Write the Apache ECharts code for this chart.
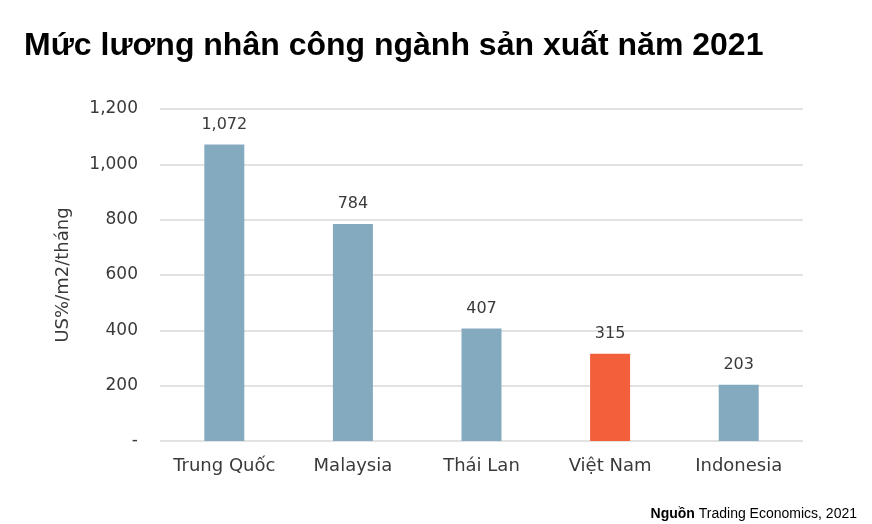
<!DOCTYPE html>
<html><head><meta charset="utf-8">
<script src="https://cdn.jsdelivr.net/npm/echarts@6/dist/echarts.min.js"></script>
<style>html,body{margin:0;padding:0;background:#fff}#c{width:872px;height:524px}</style>
</head><body><div id="c"></div>
<script>
const categories = ["Trung Quốc", "Malaysia", "Thái Lan", "Việt Nam", "Indonesia"];
const values = [1072, 784, 407, 315, 203];
const highlight = "Việt Nam";
const chart = echarts.init(document.getElementById('c'), null, {renderer: 'canvas'});
const font = '"DejaVu Sans", sans-serif';
const arial = '"Liberation Sans", Arial, sans-serif';
chart.setOption({
  animation: false,
  title: [{
    text: 'Mức lương nhân công ngành sản xuất năm 2021',
    left: 19, top: 25,
    textStyle: {fontFamily: arial, fontWeight: 'bold', fontSize: 32, color: '#000'}
  }, {
    text: '{b|Nguồn} {n|Trading Economics, 2021}',
    right: 10, top: 502,
    textStyle: {fontFamily: arial, fontSize: 14, fontWeight: 'normal', color: '#000',
      rich: {
        b: {fontFamily: arial, fontSize: 14, fontWeight: 'bold', color: '#000'},
        n: {fontFamily: arial, fontSize: 14, fontWeight: 'normal', color: '#000'}
      }}
  }],
  grid: {left: 160, right: 69, top: 109, bottom: 83},
  xAxis: {
    type: 'category', data: categories,
    axisLine: {show: false}, axisTick: {show: false},
    axisLabel: {interval: 0, fontFamily: font, fontSize: 18, color: '#3a3a3a', margin: 16}
  },
  yAxis: {
    type: 'value', min: 0, max: 1200, interval: 200,
    name: 'US%/m2/tháng', nameLocation: 'middle', nameGap: 88, nameRotate: 90,
    nameTextStyle: {fontFamily: font, fontSize: 18, color: '#3a3a3a'},
    axisLine: {show: false}, axisTick: {show: false},
    axisLabel: {fontFamily: font, fontSize: 17, color: '#3a3a3a', margin: 22,
      formatter: v => v === 0 ? '-' : v.toLocaleString('en-US')},
    splitLine: {lineStyle: {color: '#d9d9d9', width: 1.5}}
  },
  series: [{
    type: 'bar', barWidth: 40,
    data: values.map((v, i) => ({value: v, itemStyle: {color: categories[i] === highlight ? '#F25F3A' : '#84AABF'}})),
    label: {show: true, position: 'top', distance: 12, fontFamily: font, fontSize: 16, color: '#3a3a3a',
      formatter: p => p.value.toLocaleString('en-US')}
  }]
});
</script></body></html>
